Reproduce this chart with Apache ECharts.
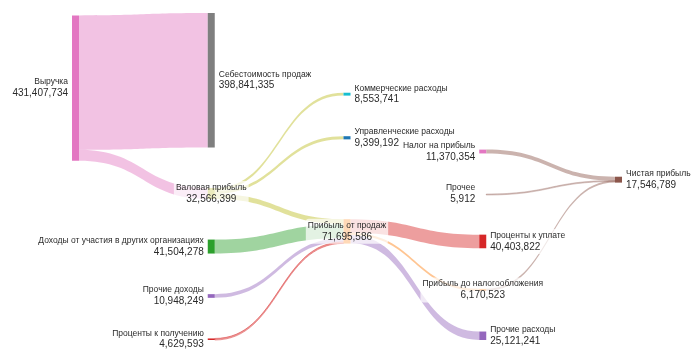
<!DOCTYPE html>
<html><head><meta charset="utf-8">
<script src="https://cdn.jsdelivr.net/npm/echarts@6/dist/echarts.min.js"></script>
<style>html,body{margin:0;padding:0;background:#fff}#c{width:700px;height:350px}</style>
</head><body><div id="c"></div>
<script>
const nodeNames = ['Выручка','Себестоимость продаж','Валовая прибыль','Доходы от участия в других организациях','Проценты к получению','Прочие доходы','Коммерческие расходы','Управленческие расходы','Прибыль от продаж','Проценты к уплате','Прочие расходы','Прибыль до налогообложения','Налог на прибыль','Прочее','Чистая прибыль'];
const nodeValues = [431407734,398841335,32566399,41504278,4629593,10948249,8553741,9399192,71695586,40403822,25121241,6170523,11370354,5912,17546789];
const nodeDepths = [0,1,1,1,1,1,2,2,2,3,3,3,3,3,4];
const nodeColors = ['#e377c2','#7f7f7f','#bcbd22','#2ca02c','#d62728','#9467bd','#17becf','#1f77b4','#ff7f0e','#d62728','#9467bd','#ff7f0e','#e377c2','#7f7f7f','#8c564b'];
const labelSides = ['left','right','inside','left','left','left','right','right','inside','right','right','inside','left','left','right'];
const linkSources = [0,0,2,2,2,3,4,5,8,8,8,11,12,13];
const linkTargets = [1,2,6,7,8,8,8,8,9,10,11,14,14,14];
const linkValues = [398841335,32566399,8553741,9399192,14613466,41504278,4629593,10948249,40403822,25121241,6170523,6170523,11370354,5912];
const linkColors = ['rgba(227,119,194,0.45)','rgba(227,119,194,0.45)','rgba(188,189,34,0.45)','rgba(188,189,34,0.45)','rgba(188,189,34,0.45)','rgba(44,160,44,0.45)','rgba(214,39,40,0.45)','rgba(148,103,189,0.45)','rgba(214,39,40,0.45)','rgba(148,103,189,0.45)','rgba(255,127,14,0.45)','rgba(140,86,75,0.45)','rgba(140,86,75,0.45)','rgba(140,86,75,0.3)'];

const fmt = v => Math.round(v).toString().replace(/\B(?=(\d{3})+(?!\d))/g, ',');

const nodes = nodeNames.map((n, i) => ({
  name: n, value: nodeValues[i], depth: nodeDepths[i],
  itemStyle: { color: nodeColors[i] },
  label: { position: labelSides[i] }
}));
const links = linkSources.map((s, i) => {
  const l = { source: nodeNames[s], target: nodeNames[linkTargets[i]], value: linkValues[i],
    lineStyle: { color: linkColors[i], opacity: 1 } };
  if (linkValues[i] < 6000000) {
    l.lineStyle.borderColor = linkColors[i];
    l.lineStyle.borderWidth = 1;
  }
  return l;
});

const chart = echarts.init(document.getElementById('c'), null, { renderer: 'canvas' });
chart.setOption({
  backgroundColor: '#fff',
  animation: false,
  series: [{
    type: 'sankey',
    left: 72, right: 78, top: 13, bottom: 10,
    nodeWidth: 7, nodeGap: 40.6,
    layoutIterations: 6,
    nodeAlign: 'justify',
    draggable: false,
    emphasis: { disabled: true },
    itemStyle: { borderWidth: 0 },
    label: {
      show: true, distance: 2,
      fontFamily: 'Liberation Sans',
      formatter: p => '{n|' + p.name + '}\n{v|' + fmt(p.value) + '}',
      rich: {
        n: { fontSize: 8.5, lineHeight: 11, color: '#2a2a2a', fontFamily: 'Liberation Sans' },
        v: { fontSize: 10, lineHeight: 12, color: '#2a2a2a', fontFamily: 'Liberation Sans' }
      },
      backgroundColor: 'rgba(255,255,255,0.7)', borderRadius: 3, padding: [1, 2]
    },
    data: nodes,
    links: links
  }]
});
</script></body></html>
